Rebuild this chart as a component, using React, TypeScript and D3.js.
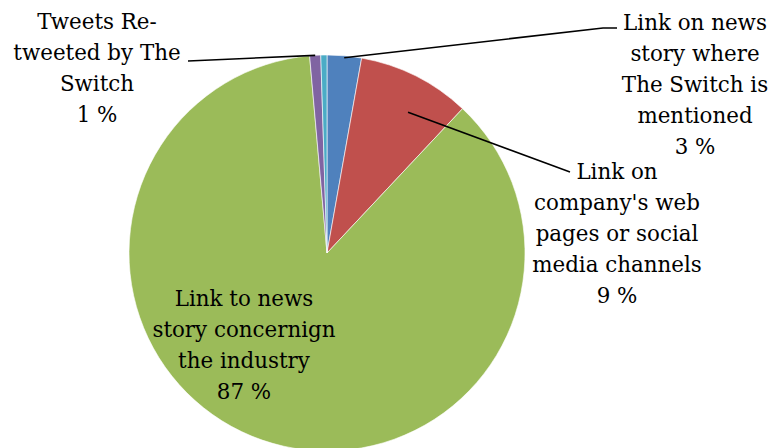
import React, { useEffect, useRef } from "react";
import * as d3 from "d3";

const categories = [
  "Link on news story where The Switch is mentioned",
  "Link on company's web pages or social media channels",
  "Link to news story concernign the industry",
  "Tweets Re-tweeted by The Switch",
  "Other",
];
const values = [2.8, 9.2, 86.6, 0.9, 0.5];
const colors = ["#4F81BD", "#C0504D", "#9BBB59", "#8064A2", "#4BACC6"];
const labelLines = [
  ["Link on news", "story where", "The Switch is", "mentioned", "3 %"],
  ["Link on", "company's web", "pages or social", "media channels", "9 %"],
  ["Link to news", "story concernign", "the industry", "87 %"],
  ["Tweets Re-", "tweeted by The", "Switch", "1 %"],
  [],
];

const W = 773;
const H = 448;

export default function App() {
  const ref = useRef<SVGSVGElement | null>(null);
  useEffect(() => {
    const svg = d3.select(ref.current);
    svg.selectAll("*").remove();
    const cx = 327, cy = 253, r = 198;
    const pie = d3.pie<number>().sort(null).value((d) => d);
    const arcs = pie(values);
    const arc = d3.arc<d3.PieArcDatum<number>>().innerRadius(0).outerRadius(r);
    const g = svg.append("g").attr("transform", `translate(${cx},${cy})`);
    g.selectAll("path")
      .data(arcs)
      .join("path")
      .attr("d", arc as any)
      .attr("fill", (_d, i) => colors[i])
      .attr("stroke", "#fff")
      .attr("stroke-width", 0.6);

    const labelPos: [number, number][] = [
      [695, 22],
      [617, 171],
      [244, 298],
      [97, 21],
    ];
    const lh = 31;
    labelLines.forEach((lines, i) => {
      if (!lines.length) return;
      const [lx, ly] = labelPos[i];
      const t = svg
        .append("text")
        .attr("text-anchor", "middle")
        .style("font-family", "'DejaVu Serif'")
        .style("font-size", "21.4px")
        .attr("fill", "#000");
      lines.forEach((ln, j) => {
        t.append("tspan")
          .attr("x", lx)
          .attr("y", ly + j * lh)
          .attr("dominant-baseline", "central")
          .text(ln);
      });
    });

    const pt = (i: number, af: number, f: number) => {
      const a = arcs[i];
      const ang = a.startAngle + (a.endAngle - a.startAngle) * af;
      return [cx + Math.sin(ang) * r * f, cy - Math.cos(ang) * r * f];
    };
    const leaders: number[][][] = [
      [pt(0, 0.5, 0.99), [603, 28], [617, 28]],
      [pt(1, 0.6, 0.82), [570, 172]],
      [pt(3, 0.5, 1.0), [188, 61]],
    ];
    const line = d3.line();
    leaders.forEach((pts) => {
      svg
        .append("path")
        .attr("d", line(pts as any) as string)
        .attr("fill", "none")
        .attr("stroke", "#000")
        .attr("stroke-width", 1.6);
    });
  }, []);
  return (
    <svg
      ref={ref}
      width={W}
      height={H}
      style={{ position: "absolute", left: 0, top: 0, background: "#fff" }}
    />
  );
}
